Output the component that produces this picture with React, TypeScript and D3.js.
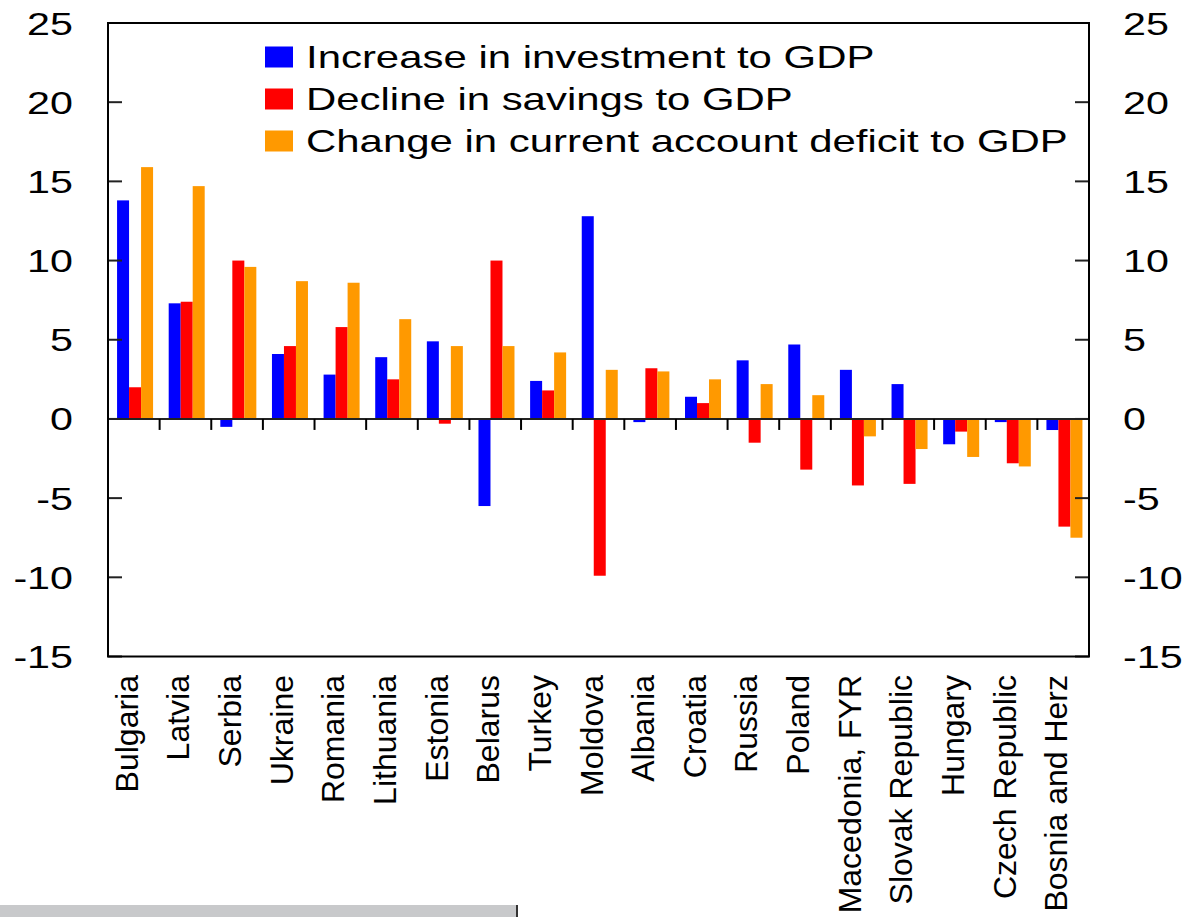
import React from "react";
import * as d3 from "d3";

const categories = [
  "Bulgaria", "Latvia", "Serbia", "Ukraine", "Romania", "Lithuania", "Estonia",
  "Belarus", "Turkey", "Moldova", "Albania", "Croatia", "Russia", "Poland",
  "Macedonia, FYR", "Slovak Republic", "Hungary", "Czech Republic", "Bosnia and Herz",
];

const seriesNames = [
  "Increase in investment to GDP",
  "Decline in savings to GDP",
  "Change in current account deficit to GDP",
];

const investment = [13.8, 7.3, -0.5, 4.1, 2.8, 3.9, 4.9, -5.5, 2.4, 12.8, -0.2, 1.4, 3.7, 4.7, 3.1, 2.2, -1.6, -0.2, -0.7];
const savings = [2.0, 7.4, 10.0, 4.6, 5.8, 2.5, -0.3, 10.0, 1.8, -9.9, 3.2, 1.0, -1.5, -3.2, -4.2, -4.1, -0.8, -2.8, -6.8];
const currentAccount = [15.9, 14.7, 9.6, 8.7, 8.6, 6.3, 4.6, 4.6, 4.2, 3.1, 3.0, 2.5, 2.2, 1.5, -1.1, -1.9, -2.4, -3.0, -7.5];

const yTicks = [-15, -10, -5, 0, 5, 10, 15, 20, 25];

const colors = ["#0000FF", "#FF0000", "#FF9900"];
const seriesValues = [investment, savings, currentAccount];

const FONT = "'Liberation Sans', Arial, Helvetica, sans-serif";

export default function App() {
  const W = 1188;
  const H = 917;
  const left = 108;
  const right = 1089;
  const top = 23;
  const bottom = 656.5;

  const x0 = d3.scaleBand<string>().domain(categories).range([left, right]).padding(0);
  const x1 = d3
    .scaleBand<string>()
    .domain(seriesNames)
    .range([0, x0.bandwidth()])
    .paddingInner(0)
    .paddingOuter(0.651)
    .align(0.58);
  const y = d3.scaleLinear().domain([-15, 25]).range([bottom, top]);
  const y0 = y(0);

  const sx = 1.31;

  return (
    <div style={{ position: "absolute", left: 0, top: 0, width: W, height: H, background: "#fff" }}>
      <svg width={W} height={H} style={{ display: "block" }} fontFamily={FONT}>
        <rect x={0} y={0} width={W} height={H} fill="#ffffff" />

        {/* bars */}
        {seriesValues.map((vals, si) => (
          <g key={si} fill={colors[si]}>
            {categories.map((c, i) => {
              const v = vals[i];
              const bx = (x0(c) as number) + (x1(seriesNames[si]) as number);
              const yt = Math.min(y(v), y0);
              const h = Math.abs(y(v) - y0);
              return <rect key={c} x={bx} y={yt} width={x1.bandwidth()} height={h} />;
            })}
          </g>
        ))}

        {/* zero line */}
        <line x1={left} x2={right} y1={y0} y2={y0} stroke="#222" strokeWidth={2} />

        {/* category ticks on zero line */}
        {categories.slice(1).map((c) => {
          const tx = x0(c) as number;
          return <line key={c} x1={tx} x2={tx} y1={y0} y2={y0 + 11} stroke="#000" strokeWidth={2} />;
        })}

        {/* y ticks inward, left and right */}
        {yTicks.map((t) => (
          <g key={t}>
            <line x1={left} x2={left + 14} y1={y(t)} y2={y(t)} stroke="#222" strokeWidth={2} />
            <line x1={right - 14} x2={right} y1={y(t)} y2={y(t)} stroke="#222" strokeWidth={2} />
          </g>
        ))}

        {/* frame */}
        <rect x={left} y={top} width={right - left} height={bottom - top} fill="none" stroke="#000" strokeWidth={2} />

        {/* y tick labels */}
        {yTicks.map((t) => (
          <g key={"l" + t}>
            <text
              transform={`translate(73,${y(t) + 11.5}) scale(${sx},1)`}
              textAnchor="end"
              fontSize={31.5}
              fill="#000"
            >
              {String(t)}
            </text>
            <text
              transform={`translate(1123,${y(t) + 11.5}) scale(${sx},1)`}
              textAnchor="start"
              fontSize={31.5}
              fill="#000"
            >
              {String(t)}
            </text>
          </g>
        ))}

        {/* category labels */}
        {categories.map((c) => {
          const cx = (x0(c) as number) + x0.bandwidth() / 2 + 4;
          return (
            <text
              key={c}
              transform={`translate(${cx},675) rotate(-90)`}
              textAnchor="end"
              fontSize={32}
              fill="#000"
            >
              {c}
            </text>
          );
        })}

        {/* legend */}
        {seriesNames.map((s, i) => {
          const ry = 46.5 + i * 42;
          return (
            <g key={s}>
              <rect x={265} y={ry} width={28} height={21} fill={colors[i]} />
              <text
                transform={`translate(306,${ry + 21.5}) scale(${sx},1)`}
                fontSize={32}
                fill="#000"
              >
                {s}
              </text>
            </g>
          );
        })}

        {/* bottom gray strip */}
        <rect x={0} y={905} width={517} height={12} fill="#c8c9cb" />
        <line x1={517} x2={517} y1={905} y2={917} stroke="#333" strokeWidth={2} />
      </svg>
    </div>
  );
}
